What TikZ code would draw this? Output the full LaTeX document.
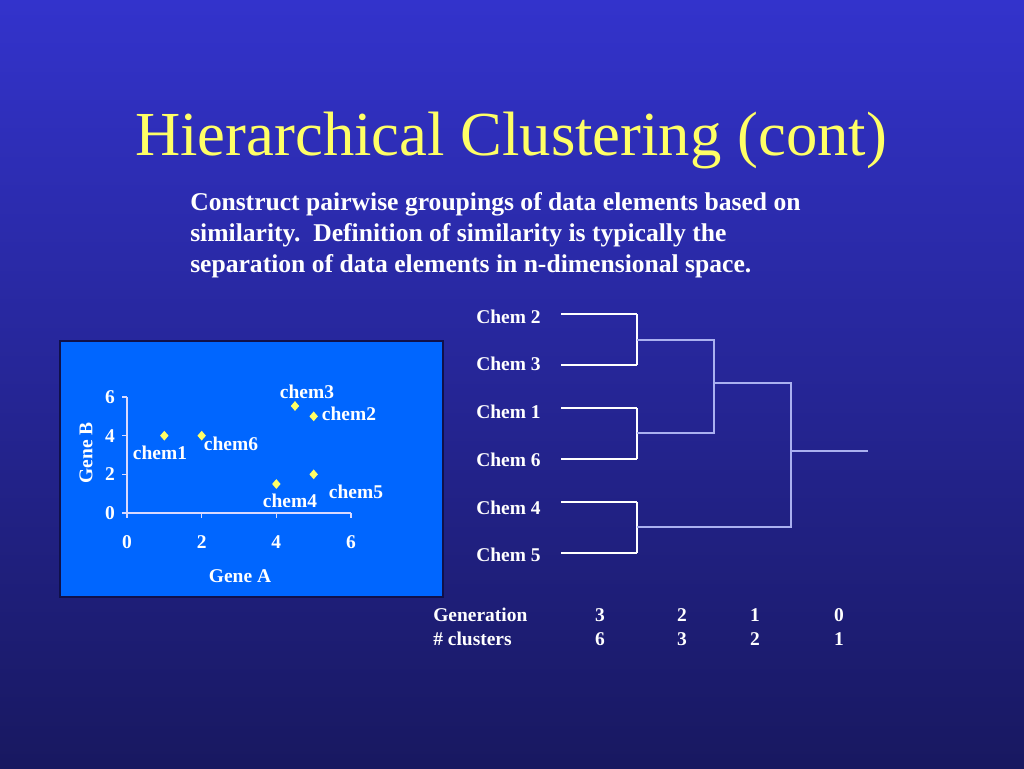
\documentclass[tikz,border=0pt]{standalone}
\usepackage{fontspec}
\setmainfont{Liberation Serif}
\usetikzlibrary{shapes.geometric}
\definecolor{bgtop}{HTML}{3333CC}
\definecolor{bgbot}{HTML}{181860}
\definecolor{ttl}{HTML}{FFFF66}
\definecolor{plotbg}{HTML}{0066FF}
\definecolor{plotedge}{HTML}{10104A}
\definecolor{mark}{HTML}{FFFF66}
\definecolor{innerline}{HTML}{AAB0F0}
\tikzset{
  small/.style={text=white,font=\fontsize{14.6}{16}\selectfont\bfseries,inner sep=0pt},
  bodytext/.style={text=white,font=\fontsize{19.2}{23}\selectfont\bfseries,anchor=base west,inner sep=0pt},
  leafline/.style={draw=white,line width=0.9pt},
  joinline/.style={draw=innerline,line width=1.2pt},
  pt/.style={diamond,fill=mark,inner sep=0pt,minimum width=6.5pt,minimum height=7.5pt},
  axisline/.style={draw=white!85!blue,line width=0.8pt},
}
\begin{document}
\begin{tikzpicture}[x=0.75pt,y=-0.75pt]
\shade[top color=bgtop,bottom color=bgbot] (0,0) rectangle (1024,768);
\useasboundingbox (0,0) rectangle (1024,768);
% title
\node[text=ttl,font=\fontsize{47}{50}\selectfont,anchor=base,inner sep=0pt] (title) at (511,155) {Hierarchical Clustering (cont)};
% body text
\node[bodytext] (body1) at (190,210) {Construct pairwise groupings of data elements based on};
\node[bodytext] (body2) at (190,241) {similarity.\ \ Definition of similarity is typically the};
\node[bodytext] (body3) at (190,272) {separation of data elements in n-dimensional space.};
% plot panel
\draw[fill=plotbg,draw=plotedge,line width=1.5pt] (60,341) rectangle (443,597);
\coordinate (o) at (127,513);
\coordinate (ytop) at (127,397);
\coordinate (xend) at (351,513);
\draw[axisline] (ytop) -- (o) -- (xend);
\foreach \v/\yy in {0/513,2/474.33,4/435.67,6/397}{
  \draw[axisline] (122,\yy) -- (127,\yy);
  \node[small,anchor=east] (yl\v) at (115,\yy) {\v};
}
\foreach \v/\xx in {0/127,2/201.67,4/276.33,6/351}{
  \draw[axisline] (\xx,513) -- (\xx,518);
  \node[small,anchor=center] (xl\v) at (\xx,542) {\v};
}
\node[small,anchor=center] (genea) at (240,576) {Gene A};
\node[small,anchor=center,rotate=90] (geneb) at (86,453) {Gene B};
% points
\node[pt] (p1) at (164.33,435.67) {};
\node[pt] (p6) at (201.67,435.67) {};
\node[pt] (p3) at (295,406) {};
\node[pt] (p2) at (313.67,416.33) {};
\node[pt] (p4) at (276.33,484) {};
\node[pt] (p5) at (313.67,474.33) {};
\node[small] (l3) at (307,392) {chem3};
\node[small] (l2) at (349,414) {chem2};
\node[small] (l1) at (160,453) {chem1};
\node[small] (l6) at (231,444) {chem6};
\node[small] (l4) at (290,501) {chem4};
\node[small] (l5) at (356,492) {chem5};
% dendrogram labels
\foreach \n/\yy in {2/317,3/364,1/412,6/460,4/508,5/555}{
  \node[small,anchor=west] (c\n) at (476,\yy) {Chem \n};
}
% leaf coordinates
\foreach \n/\yy in {2/314,3/365,1/408,6/459,4/502,5/553}{
  \coordinate (s\n) at (561,\yy);
  \coordinate (e\n) at (637,\yy);
}
\foreach \n in {2,3,1,6,4,5}{ \draw[leafline] (s\n) -- (e\n); }
\draw[leafline] (e2) -- (e3);
\draw[leafline] (e1) -- (e6);
\draw[leafline] (e4) -- (e5);
\coordinate (a23) at (637,340);
\coordinate (b23) at (714,340);
\coordinate (a16) at (637,433);
\coordinate (b16) at (714,433);
\coordinate (m) at (714,383);
\coordinate (n) at (791,383);
\coordinate (a45) at (637,527);
\coordinate (b45) at (791,527);
\coordinate (r) at (791,451);
\coordinate (rend) at (868,451);
\draw[joinline] (a23) -- (b23) -- (b16) -- (a16);
\draw[joinline] (m) -- (n) -- (b45) -- (a45);
\draw[joinline] (r) -- (rend);
% table
\node[small,anchor=west] (gen) at (433,615) {Generation};
\node[small,anchor=west] (ncl) at (433,639) {\# clusters};
\foreach \a/\b/\xx in {3/6/600,2/3/682,1/2/755,0/1/839}{
  \node[small] (g\a) at (\xx,615) {\a};
  \node[small] (k\b) at (\xx,639) {\b};
}
\end{tikzpicture}
\end{document}
